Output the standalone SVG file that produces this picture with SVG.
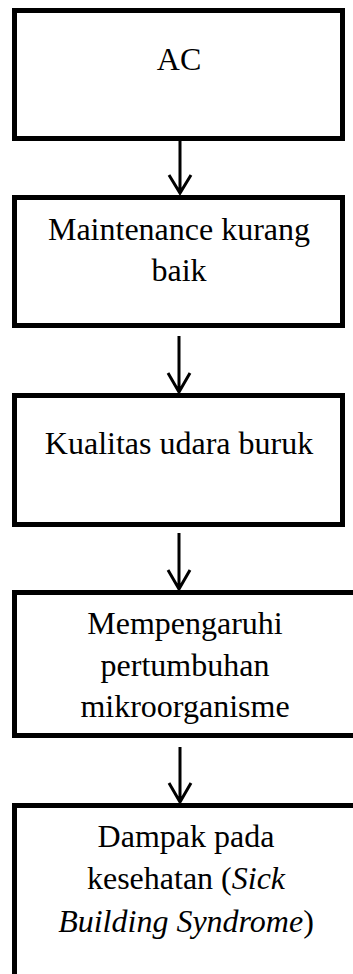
<svg xmlns="http://www.w3.org/2000/svg" width="353" height="974" viewBox="0 0 353 974">
<style>
.box{fill:#fff;stroke:#000;stroke-width:5}
.t{font-size:32px;fill:#000;text-anchor:middle}
.c{fill:none;stroke:#000;stroke-width:3}
</style>
<rect width="353" height="974" fill="#fff"/>
<g font-family="'Liberation Serif', 'DejaVu Serif', serif">
<g id="n1"><rect class="box" x="14.5" y="10.5" width="328" height="128"/><text class="t" x="179" y="70">AC</text></g>
<g id="n2"><rect class="box" x="14.5" y="197.5" width="328" height="128"/><text class="t" x="179" y="240">Maintenance kurang</text><text class="t" x="179" y="281">baik</text></g>
<g id="n3"><rect class="box" x="14.5" y="395.5" width="328" height="129"/><text class="t" x="179" y="454">Kualitas udara buruk</text></g>
<g id="n4"><rect class="box" x="14.5" y="592.5" width="350" height="143"/><text class="t" x="185" y="634">Mempengaruhi</text><text class="t" x="185" y="676">pertumbuhan</text><text class="t" x="185" y="717">mikroorganisme</text></g>
<g id="n5"><rect class="box" x="14.5" y="805.5" width="350" height="200"/><text class="t" x="186" y="847">Dampak pada</text><text class="t" x="186" y="889">kesehatan (<tspan font-style="italic">Sick</tspan></text><text class="t" x="186" y="932"><tspan font-style="italic">Building Syndrome</tspan>)</text></g>
</g>
<g id="connectors">
<path class="c" d="M180 141V193M169 175L180 193L191 175"/>
<path class="c" d="M179 336V392M168 373L179 392L190 373"/>
<path class="c" d="M179 533V589M168 570L179 589L190 570"/>
<path class="c" d="M180 747V802M169 783L180 802L191 783"/>
</g>
</svg>
